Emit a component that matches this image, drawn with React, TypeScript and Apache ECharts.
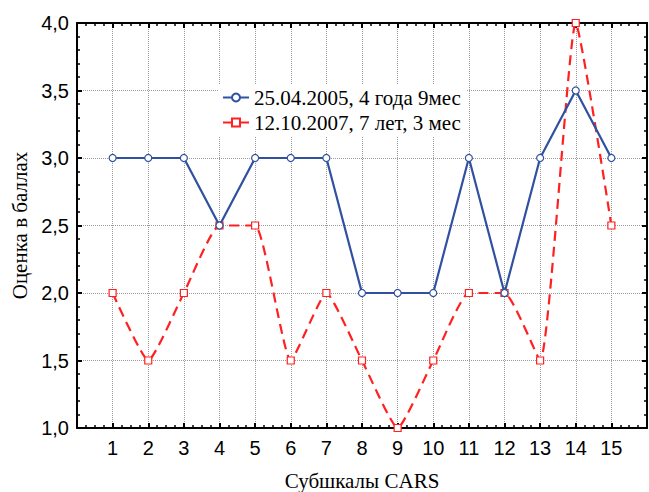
import React, { useEffect, useRef } from "react";
import * as echarts from "echarts";

const categories = [1, 2, 3, 4, 5, 6, 7, 8, 9, 10, 11, 12, 13, 14, 15];
const series2005 = [3, 3, 3, 2.5, 3, 3, 3, 2, 2, 2, 3, 2, 3, 3.5, 3];
const series2007 = [2, 1.5, 2, 2.5, 2.5, 1.5, 2, 1.5, 1.0, 1.5, 2, 2, 1.5, 4.0, 2.5];
const seriesNames = ["25.04.2005, 4 года 9мес", "12.10.2007, 7 лет, 3 мес"];
const xTitle = "Субшкалы CARS";
const yTitle = "Оценка в баллах";

export default function App() {
  const ref = useRef<HTMLDivElement>(null);
  useEffect(() => {
    if (!ref.current) return;
    const chart = echarts.init(ref.current, undefined, { renderer: "svg" });
    const axisLine = { show: true, onZero: false, lineStyle: { color: "#000", width: 2 } };
    const tickStyle = { show: true, inside: true, length: 5, lineStyle: { color: "#000", width: 2 } };
    const minorStyle = (n: number) => ({ show: true, splitNumber: n, length: 3, lineStyle: { color: "#000", width: 1.5 } });
    const gridLine = { show: true, lineStyle: { color: "#9a9a9a", type: "dotted", width: 1 } };
    const labelFont = { fontFamily: "Liberation Sans", fontSize: 20, color: "#000" };
    const titleFont = { fontFamily: "Liberation Serif", fontSize: 21, color: "#000" };
    chart.setOption({
      animation: false,
      backgroundColor: "#fff",
      grid: { left: 77, right: 2, top: 23, bottom: 64, outerBoundsMode: "none", containLabel: false },
      legend: {
        show: true,
        orient: "vertical",
        left: 218,
        top: 84,
        backgroundColor: "#fff",
        padding: [3, 6, 4, 4],
        itemGap: 4,
        itemWidth: 26,
        itemHeight: 10,
        textStyle: { ...titleFont, padding: [0, 0, 0, 0] },
        data: seriesNames,
      },
      xAxis: [
        {
          type: "value",
          position: "bottom",
          min: 0,
          max: 16,
          interval: 1,
          axisLine,
          axisTick: tickStyle,
          minorTick: minorStyle(4),
          splitLine: gridLine,
          axisLabel: {
            ...labelFont,
            margin: 10,
            formatter: (v: number) => (categories.includes(v) ? String(v) : ""),
          },
          name: xTitle,
          nameLocation: "middle",
          nameGap: 42,
          nameTextStyle: titleFont,
        },
        {
          type: "value",
          position: "top",
          min: 0,
          max: 16,
          interval: 1,
          axisLine,
          axisTick: tickStyle,
          minorTick: minorStyle(4),
          splitLine: { show: false },
          axisLabel: { show: false },
        },
      ],
      yAxis: [
        {
          type: "value",
          position: "left",
          min: 1,
          max: 4,
          interval: 0.5,
          axisLine,
          axisTick: tickStyle,
          minorTick: minorStyle(5),
          splitLine: gridLine,
          axisLabel: {
            ...labelFont,
            margin: 8,
            formatter: (v: number) => v.toFixed(1).replace(".", ","),
          },
          name: yTitle,
          nameLocation: "middle",
          nameGap: 46,
          nameTextStyle: titleFont,
        },
        {
          type: "value",
          position: "right",
          min: 1,
          max: 4,
          interval: 0.5,
          axisLine,
          axisTick: tickStyle,
          minorTick: minorStyle(5),
          splitLine: { show: false },
          axisLabel: { show: false },
        },
      ],
      series: [
        {
          name: seriesNames[0],
          type: "line",
          xAxisIndex: 0,
          yAxisIndex: 0,
          data: categories.map((c, i) => [c, series2005[i]]),
          symbol: "circle",
          symbolSize: 7,
          clip: false,
          lineStyle: { color: "#3050a0", width: 2.2 },
          itemStyle: { color: "#fff", borderColor: "#3050a0", borderWidth: 1.2 },
          z: 3,
        },
        {
          name: seriesNames[1],
          type: "line",
          xAxisIndex: 0,
          yAxisIndex: 0,
          data: categories.map((c, i) => [c, series2007[i]]),
          symbol: "rect",
          symbolSize: 7,
          smooth: 0.15,
          clip: false,
          lineStyle: { color: "#ff2020", width: 2.2, type: [10, 6] },
          itemStyle: { color: "#fff", borderColor: "#ff2020", borderWidth: 1.2 },
          z: 2,
        },
      ],
    });
    return () => chart.dispose();
  }, []);
  return (
    <div
      ref={ref}
      style={{ position: "fixed", left: 0, top: 0, width: 649, height: 492, background: "#fff" }}
    />
  );
}
